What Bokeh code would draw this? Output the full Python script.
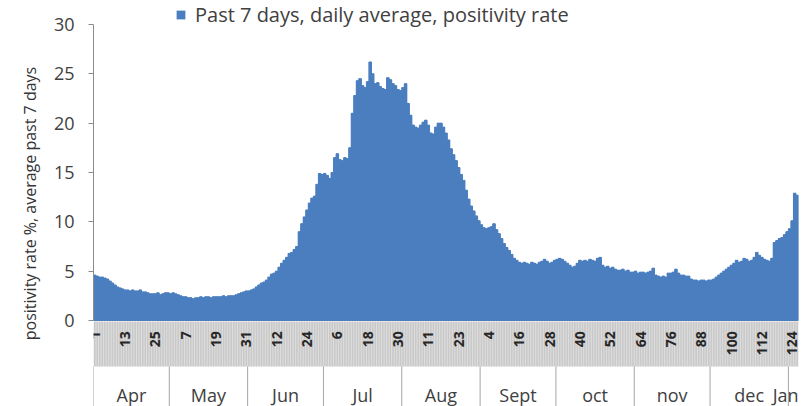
import math
from bokeh.plotting import figure
from bokeh.models import Range1d, FixedTicker, Legend, LegendItem, ColumnDataSource
from bokeh.core.properties import value
from bokeh.embed import file_html
from bokeh.resources import INLINE

# ---- data: past 7 days daily average positivity rate (%) ----
rate_apr = [4.6, 4.5, 4.4, 4.4, 4.3, 4.2, 4.0, 3.8, 3.6, 3.4,
            3.3, 3.2, 3.1, 3.1, 3.0, 3.1, 3.0, 3.0, 3.1, 2.9,
            2.9, 2.8, 2.7, 2.7, 2.7, 2.8, 2.6, 2.7, 2.8, 2.8]
rate_may = [2.7, 2.8, 2.7, 2.6, 2.5, 2.4, 2.4, 2.3, 2.3, 2.2,
            2.3, 2.3, 2.4, 2.3, 2.4, 2.4, 2.3, 2.4, 2.4, 2.4,
            2.4, 2.5, 2.4, 2.5, 2.5, 2.5, 2.6, 2.7, 2.8, 2.9, 3.0]
rate_jun = [3.0, 3.1, 3.2, 3.4, 3.6, 3.8, 3.9, 4.1, 4.4, 4.7,
            4.8, 5.0, 5.4, 5.8, 6.1, 6.4, 6.8, 6.9, 7.2, 7.5,
            9.0, 9.8, 10.5, 11.2, 11.9, 12.4, 12.6, 13.8, 14.9, 14.8]
rate_jul = [14.9, 14.7, 14.4, 15.0, 16.5, 16.9, 16.3, 16.2, 16.5, 16.4,
            17.5, 21.0, 22.8, 24.3, 24.5, 23.8, 23.6, 24.2, 26.2, 25.0,
            24.0, 24.1, 23.7, 23.5, 23.4, 24.6, 24.4, 24.0, 23.8, 23.4, 23.3]
rate_aug = [23.6, 24.0, 22.0, 20.8, 19.8, 19.6, 19.5, 19.8, 20.1, 20.3,
            19.8, 19.0, 18.9, 19.6, 20.0, 20.0, 19.6, 19.0, 18.3, 17.4,
            16.8, 16.2, 15.5, 14.8, 14.2, 13.2, 12.3, 11.6, 11.1, 10.6, 10.1]
rate_sep = [9.7, 9.4, 9.3, 9.4, 9.5, 9.8, 9.2, 8.8, 8.3, 7.8,
            7.4, 7.1, 6.7, 6.3, 6.1, 5.9, 5.8, 5.9, 5.8, 5.7,
            5.9, 5.8, 5.7, 5.9, 6.0, 6.2, 6.0, 5.8, 5.9, 6.1]
rate_oct = [6.2, 6.3, 6.2, 6.0, 5.8, 5.6, 5.4, 5.5, 5.8, 6.1,
            6.0, 6.1, 6.0, 6.2, 6.1, 6.0, 6.3, 6.4, 5.6, 5.4,
            5.5, 5.3, 5.4, 5.2, 5.1, 5.1, 5.2, 5.0, 5.1, 4.9, 4.9]
rate_nov = [5.0, 4.8, 4.9, 4.9, 4.8, 4.9, 5.0, 5.3, 4.6, 4.5,
            4.4, 4.5, 4.4, 4.8, 4.8, 4.9, 5.2, 4.8, 4.6, 4.6,
            4.5, 4.5, 4.2, 4.1, 4.1, 4.0, 4.1, 4.1, 4.0, 4.1]
rate_dec = [4.1, 4.2, 4.4, 4.6, 4.8, 5.0, 5.2, 5.4, 5.6, 5.8,
            6.1, 5.9, 6.0, 6.3, 6.2, 6.0, 6.1, 6.4, 6.9, 6.6,
            6.4, 6.2, 6.1, 6.0, 6.3, 7.9, 8.1, 8.3, 8.4, 8.7, 9.0]
rate_jan = [9.3, 10.1, 12.9, 12.7]

months = ["Apr", "May", "Jun", "Jul", "Aug", "Sept", "oct", "nov", "dec", "Jan"]
month_rates = [rate_apr, rate_may, rate_jun, rate_jul, rate_aug,
               rate_sep, rate_oct, rate_nov, rate_dec, rate_jan]

tick_labels = ["1", "13", "25", "7", "19", "31", "12", "24", "6", "18", "30",
               "11", "23", "4", "16", "28", "40", "52", "64", "76", "88",
               "100", "112", "124"]
tick_step = 12

y_ticks = [0, 5, 10, 15, 20, 25, 30]

# ---- derived ----
rate = [v for m in month_rates for v in m]
n = len(rate)
xs = list(range(n))

month_start = []
s = 0
for m in month_rates:
    month_start.append(s)
    s += len(m)
month_centers = [st + (len(m) - 1) / 2 for st, m in zip(month_start, month_rates)]
month_bounds = [st - 0.5 for st in month_start]
# last (partial) month label is right-aligned at the plot edge so it stays visible
month_x = month_centers[:-1] + [n - 0.5]
month_align = ["center"] * (len(months) - 1) + ["right"]

tick_x = [i * tick_step for i in range(len(tick_labels))]

FONT = "Open Sans"
BLUE = "#4a7ebf"

Y0, Y1 = -8.716, 32.43

p = figure(width=801, height=406, output_backend="svg", toolbar_location=None,
           x_range=Range1d(-0.5, n - 0.5), y_range=Range1d(Y0, Y1),
           x_axis_location=None, min_border_left=93, min_border_right=3,
           min_border_top=0, min_border_bottom=0)
p.grid.visible = False
p.outline_line_color = None

# category band under the axis
band_top, band_bot = -0.1, -4.66
p.quad(left=-0.5, right=n - 0.5, bottom=band_bot, top=band_top,
       fill_color="#c9c9c9", line_color=None)
cat_lines = [i + 0.5 for i in range(n - 1)]
p.segment(x0=cat_lines, y0=band_bot, x1=cat_lines, y1=band_top,
          line_color="white", line_alpha=0.4, line_width=1)

# month separators
p.segment(x0=month_bounds, y0=band_bot, x1=month_bounds, y1=Y0,
          line_color="#a6a6a6", line_width=1)

# one bar per day (full width) plus a seamless step area on top
src = ColumnDataSource(dict(x=xs, top=rate))
p.vbar(x="x", top="top", bottom=0, width=1.0, source=src,
       fill_color=BLUE, line_color=BLUE, line_width=1.0)
area = p.varea_step(x="x", y1=0, y2="top", step_mode="center", source=src,
                    fill_color=BLUE)

# tick labels (vertical)
p.text(x=tick_x, y=-1.1, text=tick_labels, angle=math.pi / 2,
       text_align="right", text_baseline="middle",
       text_font=value(FONT), text_font_size="14px", text_color="#262626",
       text_font_style="bold")

# month labels
p.text(x=month_x, y=-7.5, text=months, text_align=month_align,
       text_baseline="middle", text_font=value(FONT), text_font_size="18px",
       text_color="#404040")

# y axis
ax = p.yaxis[0]
ax.bounds = (0, 30)
ax.ticker = FixedTicker(ticks=y_ticks)
ax.major_tick_out = 5
ax.major_tick_in = 0
ax.minor_tick_line_color = None
ax.axis_line_color = "#8c8c8c"
ax.major_tick_line_color = "#8c8c8c"
ax.major_label_text_font = FONT
ax.major_label_text_font_size = "18px"
ax.major_label_text_color = "#404040"
ax.major_label_standoff = 14
ax.axis_label = "positivity rate %, average past 7 days"
ax.axis_label_text_font = FONT
ax.axis_label_text_font_size = "16px"
ax.axis_label_text_font_style = "normal"
ax.axis_label_text_color = "#333333"
ax.axis_label_standoff = 10

legend = Legend(items=[LegendItem(label="Past 7 days, daily average, positivity rate",
                                  renderers=[area])],
                location=(82, 378), orientation="horizontal",
                border_line_color=None, background_fill_alpha=0,
                padding=0, margin=0, glyph_width=11, glyph_height=11,
                label_text_font=FONT, label_text_font_size="20px",
                label_text_color="#404040", label_standoff=9)
p.add_layout(legend)

open("out.html", "w").write(file_html(p, INLINE))
